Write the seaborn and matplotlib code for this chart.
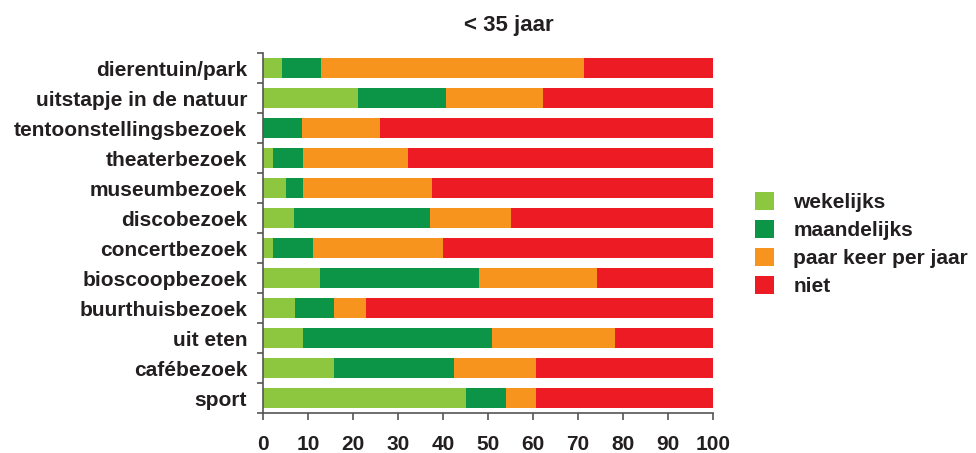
import numpy as np
import pandas as pd
import matplotlib
matplotlib.use("Agg")
import matplotlib.pyplot as plt
from matplotlib.patches import Patch
import seaborn as sns

categories = [
    "dierentuin/park", "uitstapje in de natuur", "tentoonstellingsbezoek",
    "theaterbezoek", "museumbezoek", "discobezoek", "concertbezoek",
    "bioscoopbezoek", "buurthuisbezoek", "uit eten", "cafébezoek", "sport",
]
wekelijks = [4.2, 21.1, 0.0, 2.2, 5.1, 6.9, 2.2, 12.7, 7.1, 8.9, 15.8, 45.1]
maandelijks = [8.7, 19.6, 8.7, 6.7, 3.8, 30.2, 8.9, 35.3, 8.7, 42.0, 26.6, 8.9]
paar_keer = [58.4, 21.5, 17.3, 23.3, 28.7, 18.0, 28.9, 26.2, 7.1, 27.3, 18.3, 6.7]
niet = [28.7, 37.8, 74.0, 67.8, 62.4, 44.9, 60.0, 25.8, 77.1, 21.8, 39.3, 39.3]

series_names = ["wekelijks", "maandelijks", "paar keer per jaar", "niet"]
series_values = [wekelijks, maandelijks, paar_keer, niet]
colors = ["#8dc63f", "#0c9447", "#f7941d", "#ed1c24"]
xticks = [0, 10, 20, 30, 40, 50, 60, 70, 80, 90, 100]

sns.set_theme(style="white")
plt.rcParams["font.family"] = ["Liberation Sans", "DejaVu Sans"]
text_color = "#231f20"

fig = plt.figure(figsize=(9.76, 4.53), dpi=100)
ax = fig.add_axes([263 / 976, 1 - 413 / 453, 450 / 976, 360 / 453])

# stacked bars: draw cumulative totals from the outermost segment inward
cum = np.cumsum(np.array(series_values), axis=0)
for i in range(len(series_names) - 1, -1, -1):
    df = pd.DataFrame({"cat": categories, "val": cum[i]})
    sns.barplot(data=df, x="val", y="cat", orient="h", color=colors[i],
                width=2 / 3, saturation=1, ax=ax, linewidth=0)

ax.set_xlim(0, 100)
ax.set_ylim(len(categories) - 0.5, -0.5)
ax.set_xlabel("")
ax.set_ylabel("")

ax.set_xticks(xticks)
ax.set_xticklabels([str(t) for t in xticks], fontsize=15, fontweight="bold",
                   color=text_color)
ax.set_yticks(range(len(categories)))
ax.set_yticklabels(categories, fontsize=15, fontweight="bold", color=text_color)
ax.tick_params(axis="y", length=0, pad=11.5)
ax.set_yticks(np.arange(-0.5, len(categories), 1), minor=True)
ax.tick_params(axis="y", which="minor", length=4, width=1.2, color="#555555",
               left=True)
ax.tick_params(axis="x", length=5, width=1.2, color="#555555", bottom=True,
               pad=11)

for side in ["top", "right"]:
    ax.spines[side].set_visible(False)
for side in ["left", "bottom"]:
    ax.spines[side].set_color("#555555")
    ax.spines[side].set_linewidth(1.2)

fig.text(509 / 976, 1 - 25 / 453, "< 35 jaar", ha="center", va="center",
         fontsize=16, fontweight="bold", color=text_color)

handles = [Patch(facecolor=c, edgecolor="none") for c in colors]
leg = fig.legend(handles, series_names, loc="upper left",
                 bbox_to_anchor=(736 / 976, 1 - 173 / 453), frameon=False,
                 prop={"size": 15, "weight": "bold"}, handlelength=0.9,
                 handleheight=0.95, handletextpad=0.95, labelspacing=0.38)
for t in leg.get_texts():
    t.set_color(text_color)

fig.savefig("out.png", dpi=100, facecolor="white")
